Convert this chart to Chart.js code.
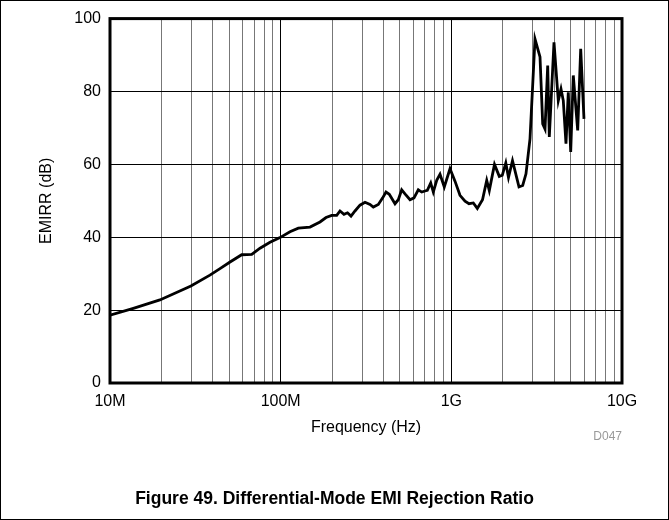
<!DOCTYPE html>
<html><head><meta charset="utf-8">
<script src="https://cdn.jsdelivr.net/npm/chart.js@4.4.1/dist/chart.umd.min.js"></script>
<style>
html,body{margin:0;padding:0;background:#fff;}
#wrap{position:relative;width:669px;height:520px;overflow:hidden;background:#fff;}
#c{position:absolute;left:0;top:0;}
#frame{position:absolute;left:0;top:0;width:669px;height:520px;box-sizing:border-box;border:1px solid #000;pointer-events:none;}
#caption{position:absolute;left:0;width:669px;top:488px;line-height:20px;text-align:center;font:bold 17.5px "Liberation Sans",Arial,sans-serif;color:#000;}
#code{position:absolute;right:47px;top:429px;line-height:14px;font:12px "Liberation Sans",Arial,sans-serif;color:#999;}
</style></head>
<body><div id="wrap"><canvas id="c" width="669" height="520"></canvas><div id="frame"></div>
<div id="code">D047</div><div id="caption">Figure 49. Differential-Mode EMI Rejection Ratio</div></div>
<script>
// Frequency (Hz)
const frequencyHz = [
  1.00e7, 1.37e7, 1.96e7, 2.98e7, 3.85e7, 4.41e7, 5.05e7, 5.91e7, 6.77e7, 7.57e7,
  8.66e7, 9.91e7, 1.134e8, 1.269e8, 1.486e8, 1.700e8, 1.844e8, 1.991e8, 2.130e8, 2.227e8,
  2.350e8, 2.464e8, 2.583e8, 2.726e8, 2.916e8, 3.120e8, 3.338e8, 3.490e8, 3.734e8, 3.961e8,
  4.142e8, 4.330e8, 4.677e8, 4.890e8, 5.119e8, 5.352e8, 5.727e8, 6.043e8, 6.404e8, 6.705e8,
  7.011e8, 7.232e8, 7.571e8, 7.841e8, 8.210e8, 8.584e8, 9.094e8, 9.822e8, 1.0505e9, 1.124e9,
  1.203e9, 1.269e9, 1.345e9, 1.420e9, 1.523e9, 1.612e9, 1.669e9, 1.790e9, 1.910e9, 1.989e9,
  2.085e9, 2.162e9, 2.282e9, 2.491e9, 2.619e9, 2.738e9, 2.890e9, 3.092e9, 3.308e9, 3.431e9,
  3.539e9, 3.670e9, 3.750e9, 3.995e9, 4.234e9, 4.391e9, 4.529e9, 4.697e9, 4.845e9, 5.005e9,
  5.183e9, 5.500e9, 5.728e9, 5.988e9
];
// EMIRR (dB)
const emirrDb = [
  18.6, 20.5, 22.8, 26.6, 29.6, 31.4, 33.2, 35.2, 35.3, 37.0,
  38.6, 39.9, 41.5, 42.5, 42.8, 44.2, 45.4, 46.0, 46.0, 47.2,
  46.3, 46.7, 45.8, 47.2, 48.8, 49.6, 49.0, 48.3, 49.0, 50.8,
  52.4, 51.8, 49.2, 50.3, 53.0, 51.9, 50.3, 50.8, 53.0, 52.4,
  52.7, 52.9, 54.9, 52.4, 55.6, 57.3, 53.8, 58.8, 55.4, 51.5,
  49.9, 49.2, 49.4, 47.9, 50.3, 55.6, 52.8, 60.0, 56.7, 57.0,
  60.4, 56.4, 61.0, 53.8, 54.2, 57.4, 67.0, 94.4, 89.5, 71.1,
  69.7, 87.1, 67.5, 93.5, 77.5, 80.7, 77.5, 65.7, 79.8, 63.4,
  84.4, 69.3, 91.7, 72.5
];
// Axis ticks
const xDecadeValues = [1e7, 1e8, 1e9, 1e10];
const xTickLabels = ['10M', '100M', '1G', '10G'];
const yTickValues = [0, 20, 40, 60, 80, 100];

const FONT = '"Liberation Sans", Arial, sans-serif';

const xGridValues = [];
xDecadeValues.forEach((d, i) => {
  if (i < xDecadeValues.length - 1) { for (let m = 1; m <= 9; m++) xGridValues.push(d * m); }
  else xGridValues.push(d);
});
const isDecade = v => xDecadeValues.some(d => Math.abs(v - d) / d < 1e-6);

const frameBorder = {
  id: 'frameBorder',
  afterDatasetsDraw(chart) {
    const {ctx, chartArea: a} = chart;
    ctx.save();
    ctx.strokeStyle = '#000';
    ctx.lineWidth = 3;
    ctx.strokeRect(a.left, a.top, a.right - a.left, a.bottom - a.top);
    ctx.restore();
  }
};

new Chart(document.getElementById('c'), {
  type: 'line',
  data: {
    datasets: [{
      data: frequencyHz.map((f, i) => ({x: f, y: emirrDb[i]})),
      borderColor: '#000',
      borderWidth: 2.8,
      pointRadius: 0,
      tension: 0,
      fill: false
    }]
  },
  options: {
    responsive: false,
    animation: false,
    devicePixelRatio: 1,
    layout: {padding: {left: 0, right: 47, top: 18, bottom: 0}},
    plugins: {legend: {display: false}, tooltip: {enabled: false}},
    scales: {
      x: {
        type: 'logarithmic',
        min: 1e7, max: 1e10,
        afterFit: s => { s.height = 137; },
        afterBuildTicks: s => { s.ticks = xGridValues.map(v => ({value: v})); },
        grid: {
          drawTicks: false,
          color: c => (c.tick && isDecade(c.tick.value)) ? '#000' : '#777',
          lineWidth: 1
        },
        border: {display: false},
        ticks: {
          autoSkip: false, maxRotation: 0, padding: 9,
          color: '#000',
          font: {family: FONT, size: 16},
          callback: v => { const i = xDecadeValues.findIndex(d => Math.abs(v - d) / d < 1e-6); return i >= 0 ? xTickLabels[i] : ''; }
        },
        title: {display: true, text: 'Frequency (Hz)', color: '#000', font: {family: FONT, size: 16}, padding: {top: 0, bottom: 83}}
      },
      y: {
        min: 0, max: 100,
        afterFit: s => { s.width = 110; },
        afterBuildTicks: s => { s.ticks = yTickValues.map(v => ({value: v})); },
        grid: {drawTicks: false, color: '#000', lineWidth: 1},
        border: {display: false},
        ticks: {padding: 9, color: '#000', font: {family: FONT, size: 16}},
        title: {display: true, text: 'EMIRR (dB)', color: '#000', font: {family: FONT, size: 16}, padding: {top: 37, bottom: 0}}
      }
    }
  },
  plugins: [frameBorder]
});
</script>
</body></html>
